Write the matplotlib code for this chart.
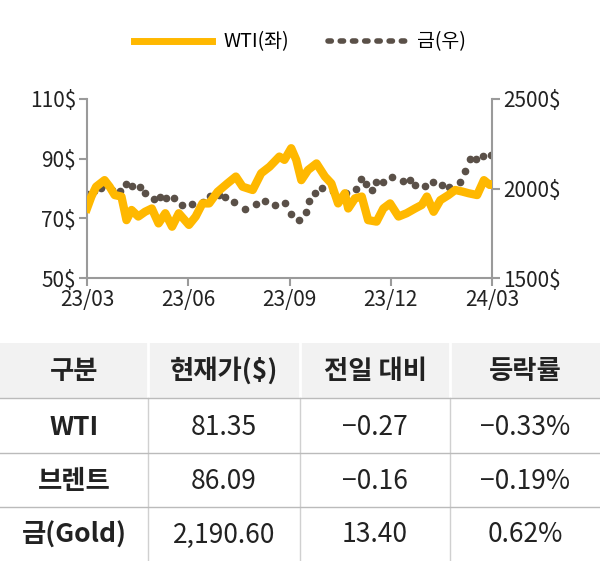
import matplotlib
matplotlib.use("Agg")
import matplotlib.pyplot as plt
from matplotlib.patches import Rectangle
from matplotlib.lines import Line2D

plt.rcParams["font.family"] = "Noto Sans CJK KR"

# months since 23/03
wti_x = [0.00,0.13,0.27,0.52,0.67,0.82,1.02,1.17,1.32,1.52,1.72,1.92,2.12,2.32,2.52,2.72,3.02,3.22,3.42,3.62,3.87,4.16,4.41,4.61,4.91,5.16,5.41,5.70,5.85,6.05,6.20,6.35,6.55,6.80,7.05,7.24,7.44,7.64,7.74,7.94,8.14,8.33,8.58,8.78,8.98,9.23,9.47,9.72,9.92,10.07,10.27,10.47,10.71,10.91,11.11,11.31,11.56,11.76,11.93,12.00]
wti_y = [73.3,77.3,80.6,82.8,80.6,77.8,77.3,69.4,72.8,70.6,72.2,73.3,68.3,71.7,67.2,71.7,67.8,70.6,75.0,75.0,78.9,81.7,84.0,80.6,79.5,85.1,87.3,90.7,89.6,93.5,89.6,82.8,86.2,88.4,84.0,81.7,75.0,78.4,73.3,76.7,77.3,69.4,68.9,73.3,75.0,70.6,71.7,73.3,74.5,77.3,72.2,76.1,77.8,79.5,79.0,78.4,77.8,82.8,81.2,81.35]

gold_xz = [82,103,123,137,157,181,200,218,242,256,282,300,320,344,368,398,429,452,478,497,523,556,588,616,647,676,693,717,739,749,765,788,819,837,860,889,905,918,937,950,970,996,1029,1052,1066,1096,1120,1148,1169,1202,1215,1230,1248,1271,1294]
gold_x = [(v - 82) / (1297 - 82) * 12 for v in gold_xz]
gold_y = [1969,1986,2001,2027,1992,1986,2025,2014,2007,1973,1943,1953,1947,1947,1910,1915,1925,1960,1962,1953,1923,1885,1912,1928,1908,1921,1858,1822,1867,1928,1973,2001,1988,1936,1977,1999,2051,2023,1990,2034,2038,2062,2040,2047,2019,2014,2038,2018,2010,2034,2098,2165,2165,2182,2189]

x_ticks = [0, 3, 6, 9, 12]
x_labels = ["23/03", "23/06", "23/09", "23/12", "24/03"]
left_ticks = [50, 70, 90, 110]
right_ticks = [1500, 2000, 2500]

header = ["구분", "현재가($)", "전일 대비", "등락률"]
rows = [["WTI", "81.35", "−0.27", "−0.33%"],
        ["브렌트", "86.09", "−0.16", "−0.19%"],
        ["금(Gold)", "2,190.60", "13.40", "0.62%"]]

W, H = 600, 561
fig = plt.figure(figsize=(6, 5.61), dpi=100)
YEL = "#FFB800"
GD = "#5A5048"
GR = "#9a9a9a"

ax = fig.add_axes([87/W, 1-278/H, (492-87)/W, (278-99)/H])
ax.plot(wti_x, wti_y, color=YEL, lw=6, solid_joinstyle="round", zorder=3)
ax.set_xlim(0, 12)
ax.set_ylim(50, 110)
ax.set_yticks(left_ticks)
ax.set_yticklabels([f"{v}$" for v in left_ticks])
ax.set_xticks(x_ticks)
ax.set_xticklabels(x_labels)
ax2 = ax.twinx()
ax2.plot(gold_x, gold_y, ls="none", marker="o", ms=4.5, color=GD)
ax2.set_ylim(1500, 2500)
ax2.set_yticks(right_ticks)
ax2.set_yticklabels([f"{v}$" for v in right_ticks])
for a in (ax, ax2):
    for s in a.spines.values():
        s.set_visible(False)
    a.tick_params(colors=GR, labelcolor="#222", labelsize=15, length=6, width=1.5, pad=2)
ax.spines["left"].set_visible(True); ax.spines["bottom"].set_visible(True)
ax2.spines["right"].set_visible(True)
for s in (ax.spines["left"], ax.spines["bottom"], ax2.spines["right"]):
    s.set_color(GR); s.set_linewidth(1.5)
ax.set_zorder(ax2.get_zorder() + 1); ax.patch.set_visible(False)

h = [Line2D([], [], color=YEL, lw=5), Line2D([], [], color=GD, ls=(0, (0.6, 1.6)), lw=4, dash_capstyle="round")]
fig.legend(h, ["WTI(좌)", "금(우)"], loc="center", bbox_to_anchor=(0.5, 1-42/H), ncol=2,
           frameon=False, fontsize=14, handlelength=4, columnspacing=2, handletextpad=0.6)

# table
tax = fig.add_axes([0, 0, 1, 1])
tax.set_xlim(0, W); tax.set_ylim(H, 0); tax.axis("off")
tax.add_patch(Rectangle((0, 343), W, 55, color="#f2f2f2", lw=0))
col_edges = [0, 148, 300, 450, W]
centers = [(col_edges[i] + col_edges[i+1]) / 2 for i in range(4)]
for xe in col_edges[1:-1]:
    tax.plot([xe, xe], [343, 398], color="white", lw=2)
    tax.plot([xe, xe], [398, H], color="#d0d0d0", lw=1)
for yl in [398, 453, 507]:
    tax.plot([0, W], [yl, yl], color="#bbbbbb", lw=1)
for c, t in zip(centers, header):
    tax.text(c, 371, t, ha="center", va="center", fontsize=19, fontweight="bold", color="#222")
row_y = [427, 481, 535]
for ry, r in zip(row_y, rows):
    for i, (c, t) in enumerate(zip(centers, r)):
        tax.text(c, ry, t, ha="center", va="center", fontsize=19,
                 fontweight="bold" if i == 0 else "normal", color="#222")

fig.savefig("out.png", dpi=100)
